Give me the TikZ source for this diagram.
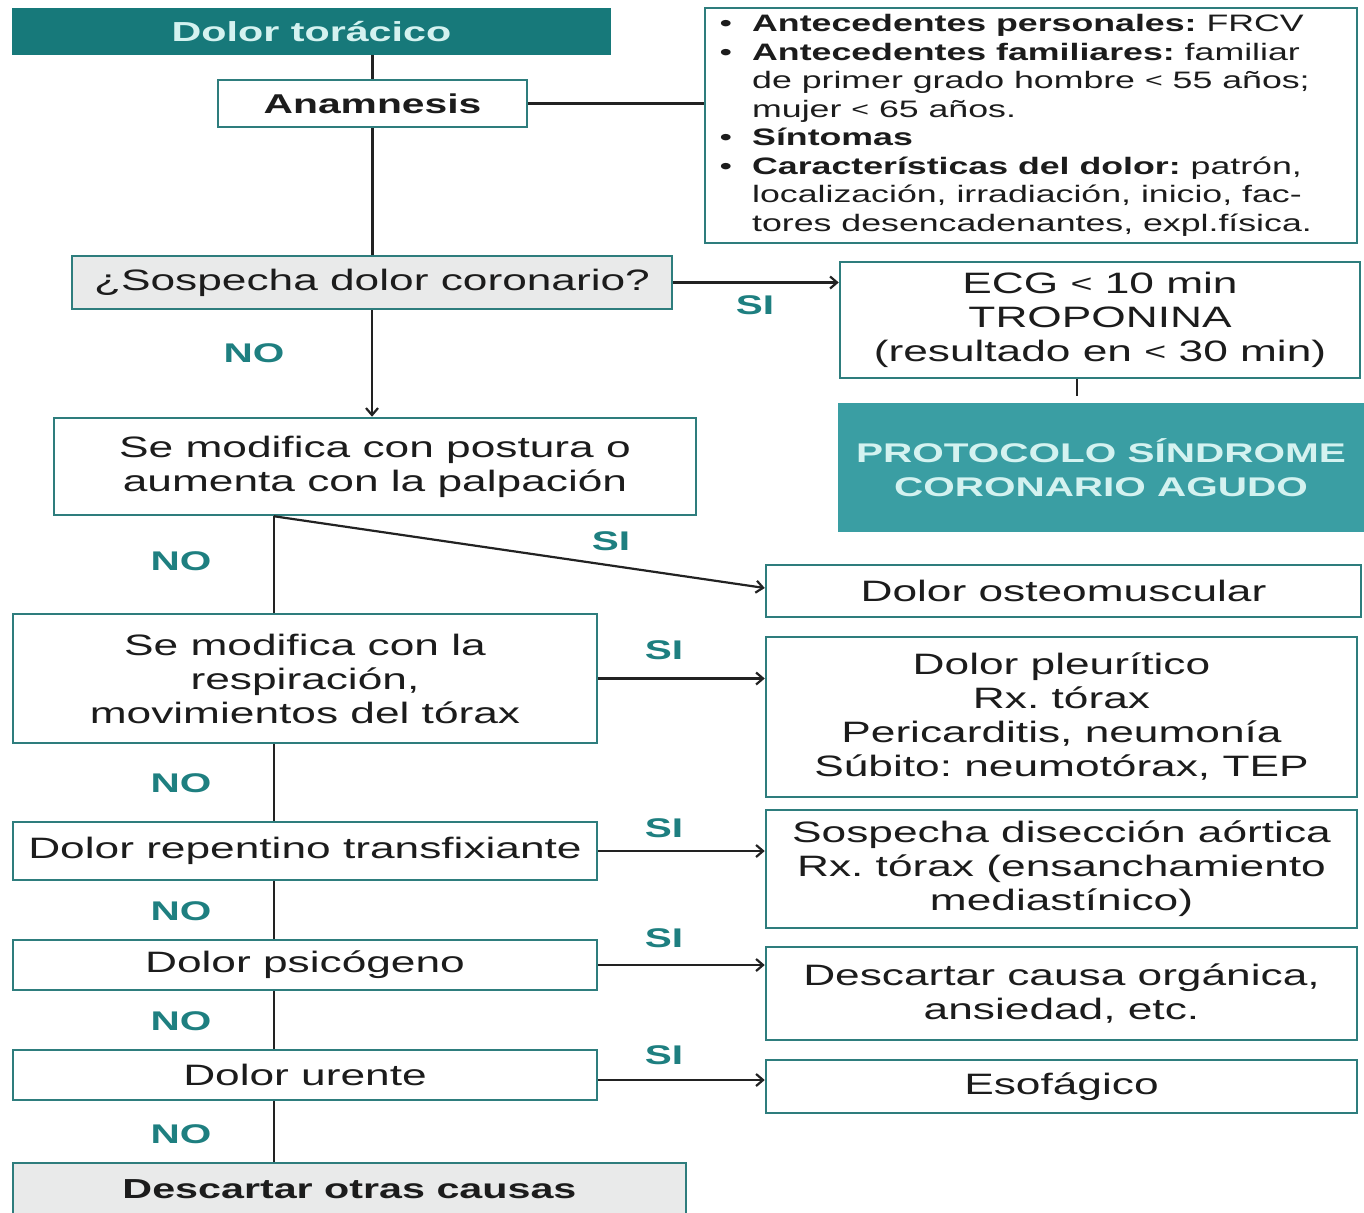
\documentclass[tikz,border=0pt]{standalone}
\usepackage{fontspec}
\setmainfont{Liberation Sans}[FakeStretch=1.5]
\usetikzlibrary{arrows.meta}
\definecolor{titlefill}{HTML}{17797A}
\definecolor{protofill}{HTML}{3A9EA3}
\definecolor{paletxt}{HTML}{D4F2F0}
\definecolor{bordc}{HTML}{2E7D7D}
\definecolor{grayfill}{HTML}{E9EAEA}
\definecolor{lblc}{HTML}{1E7F80}
\definecolor{txt}{HTML}{1C1C1C}
\definecolor{linec}{HTML}{222222}
\newcommand{\smlt}{\raisebox{1pt}{\scalebox{0.85}{<}}}
\frenchspacing
\tikzset{
  box/.style={draw=bordc, line width=2.5pt, fill=white, inner sep=0pt, align=center, text=txt,
              font=\fontsize{29.5}{34}\selectfont},
  graybox/.style={box, fill=grayfill},
  lbl/.style={text=lblc, inner sep=0pt, font=\bfseries\fontsize{27}{30}\selectfont},
  conn/.style={line width=2.2pt, draw=linec},
  arr/.style={conn, -{Straight Barb[length=7pt,width=12pt]}},
}
\begin{document}
\begin{tikzpicture}[x=1pt,y=-1pt]
\useasboundingbox (0,0) rectangle (1364,1212);
\fill[white] (0,0) rectangle (1364,1212);

% title
\node[fill=titlefill, inner sep=0pt, minimum width=599pt, minimum height=47pt, text=paletxt,
      font=\bfseries\fontsize{27.5}{30}\selectfont] (title) at (311.5,31.5) {Dolor torácico};
\node[box, minimum width=309pt, minimum height=47pt, font=\bfseries\fontsize{27.2}{30}\selectfont] (anam) at (372.5,103.5) {Anamnesis};
\node[box, minimum width=652pt, minimum height=235pt] (info) at (1031,125.5) {};
\node[anchor=west, inner sep=0pt, align=left, text=txt, font=\fontsize{23.8}{28.5}\selectfont] (infotxt) at (752,125.5)
{\llap{\textbullet\hspace{20pt}}\textbf{Antecedentes personales:} FRCV\\
 \llap{\textbullet\hspace{20pt}}\textbf{Antecedentes familiares:} familiar\\
 de primer grado hombre \smlt{} 55 años;\\
 mujer \smlt{} 65 años.\\
 \llap{\textbullet\hspace{20pt}}\textbf{Síntomas}\\
 \llap{\textbullet\hspace{20pt}}\textbf{Características del dolor:} patrón,\\
 localización, irradiación, inicio, fac-\\
 tores desencadenantes, expl.física.};

\node[graybox, minimum width=600pt, minimum height=53pt] (sosp) at (372,282.5) {¿Sospecha dolor coronario?};
\node[box, minimum width=520pt, minimum height=116pt] (ecg) at (1100,320) {ECG \smlt{} 10 min\\TROPONINA\\(resultado en \smlt{} 30 min)};
\node[fill=protofill, inner sep=0pt, minimum width=526pt, minimum height=129pt, align=center, text=paletxt,
      font=\bfseries\fontsize{27}{34}\selectfont] (proto) at (1101,467.5) {PROTOCOLO SÍNDROME\\CORONARIO AGUDO};

\node[box, minimum width=642pt, minimum height=97pt] (post) at (375,466.5) {Se modifica con postura o\\aumenta con la palpación};
\node[box, minimum width=595pt, minimum height=52pt] (osteo) at (1063.5,591) {Dolor osteomuscular};
\node[box, minimum width=584pt, minimum height=129pt] (resp) at (305,678.5) {Se modifica con la\\respiración,\\movimientos del tórax};
\node[box, minimum width=591pt, minimum height=160pt] (pleu) at (1061.5,717) {Dolor pleurítico\\Rx. tórax\\Pericarditis, neumonía\\Súbito: neumotórax, TEP};
\node[box, minimum width=584pt, minimum height=58pt] (rep) at (305,851) {Dolor repentino transfixiante};
\node[box, minimum width=591pt, minimum height=118pt] (dis) at (1061.5,869) {Sospecha disección aórtica\\Rx. tórax (ensanchamiento\\mediastínico)};
\node[box, minimum width=584pt, minimum height=50pt] (psi) at (305,965) {Dolor psicógeno};
\node[box, minimum width=591pt, minimum height=93pt] (desc) at (1061.5,993.5) {Descartar causa orgánica,\\ansiedad, etc.};
\node[box, minimum width=584pt, minimum height=50pt] (ure) at (305,1075) {Dolor urente};
\node[box, minimum width=591pt, minimum height=53pt] (eso) at (1061.5,1086.5) {Esofágico};
\node[graybox, minimum width=673pt, minimum height=57pt, font=\bfseries\fontsize{27.5}{30}\selectfont] (otras) at (349.5,1191.5) {\raisebox{5pt}{Descartar otras causas}};

\coordinate (sp) at (274,0);

% connectors
\draw[conn] (anam.north |- title.south) -- (anam.north);
\draw[conn] (anam.south) -- (anam.south |- sosp.north);
\draw[conn] (anam.east) -- (anam.east -| info.west);
\draw[arr] (sosp.east) -- (sosp.east -| ecg.west);
\draw[conn, shorten >=7pt] ([xshift=-23pt]ecg.south) -- ([xshift=-24pt]proto.north);
\draw[arr] (sosp.south) -- (sosp.south |- post.north);
\draw[conn] (sp |- post.south) -- (sp |- resp.north);
\draw[arr] (sp |- post.south) -- ([yshift=3pt]osteo.west);
\draw[arr] (resp.east) -- (resp.east -| pleu.west);
\draw[conn] (sp |- resp.south) -- (sp |- rep.north);
\draw[arr] (rep.east) -- (rep.east -| dis.west);
\draw[conn] (sp |- rep.south) -- (sp |- psi.north);
\draw[arr] (psi.east) -- (psi.east -| desc.west);
\draw[conn] (sp |- psi.south) -- (sp |- ure.north);
\draw[arr] ([yshift=-5pt]ure.east) -- ([yshift=-5pt]ure.east -| eso.west);
\draw[conn] (sp |- ure.south) -- (sp |- otras.north);

% labels
\node[lbl] (l1) at (755,305) {SI};
\node[lbl] (l2) at (254,353) {NO};
\node[lbl] (l3) at (611,541) {SI};
\node[lbl] (l4) at (181,561) {NO};
\node[lbl] (l5) at (664,650) {SI};
\node[lbl] (l6) at (181,783) {NO};
\node[lbl] (l7) at (664,828) {SI};
\node[lbl] (l8) at (181,911) {NO};
\node[lbl] (l9) at (664,938) {SI};
\node[lbl] (l10) at (181,1021) {NO};
\node[lbl] (l11) at (664,1055) {SI};
\node[lbl] (l12) at (181,1134) {NO};
\end{tikzpicture}
\end{document}
